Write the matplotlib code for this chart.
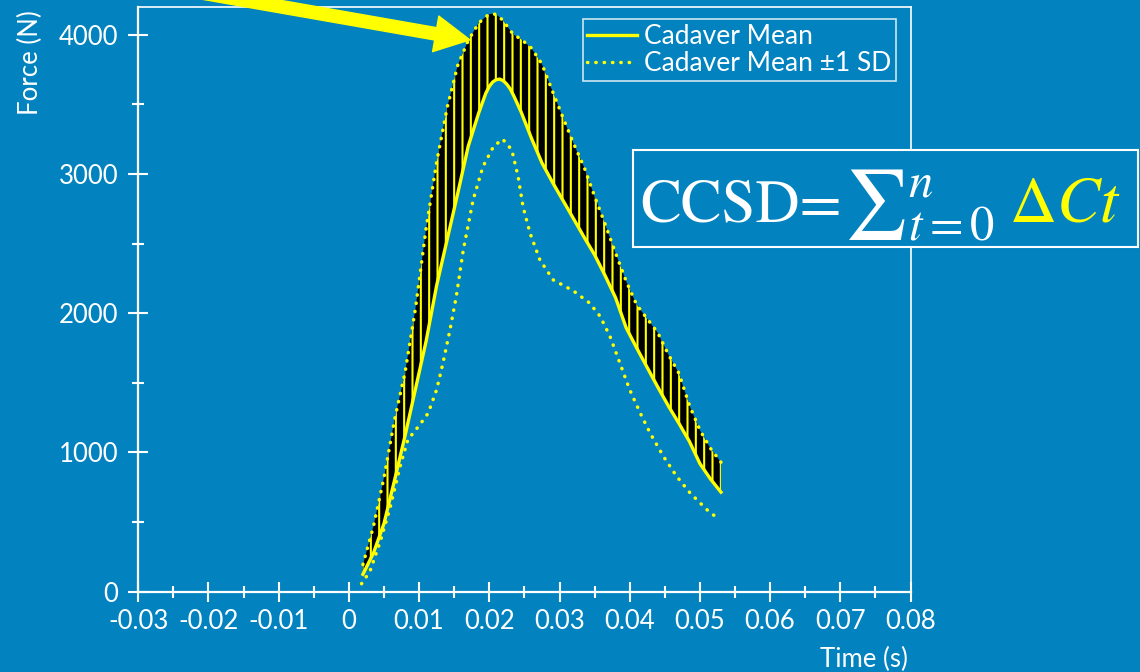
import numpy as np
import matplotlib.pyplot as plt
from matplotlib.patches import Rectangle
from matplotlib.ticker import MultipleLocator, FuncFormatter

BG = '#0283C0'
YEL = '#FFFF00'

# shared time grid for the mean and the +1 SD curve (s)
time = [0.002, 0.0035, 0.005, 0.0065, 0.008, 0.0095, 0.011, 0.0125, 0.014,
        0.0155, 0.017, 0.0185, 0.0195, 0.020, 0.0205, 0.021, 0.0215, 0.022,
        0.0225, 0.023, 0.0235, 0.024, 0.0245, 0.026, 0.0275,
        0.029, 0.0305, 0.032, 0.0335, 0.035, 0.0365, 0.038, 0.0395, 0.041,
        0.0425, 0.044, 0.0455, 0.047, 0.0485, 0.050, 0.0515, 0.053]
mean_force = [125, 278, 490, 800, 1120, 1460, 1800, 2200, 2530,
              2860, 3200, 3440, 3580, 3630, 3662, 3678, 3682, 3670,
              3645, 3610, 3560, 3505, 3450, 3258, 3080,
              2941, 2810, 2679, 2547, 2420, 2270, 2110, 1895, 1750,
              1610, 1470, 1335, 1210, 1080, 920, 810, 715]
upper_force = [195, 470, 820, 1235, 1575, 2040, 2610, 3086, 3478,
               3780, 3960, 4085, 4130, 4148, 4152, 4145, 4125, 4100,
               4065, 4030, 4000, 3985, 3970, 3905, 3790,
               3595, 3405, 3220, 3050, 2840, 2640, 2430, 2230, 2060,
               1960, 1860, 1705, 1570, 1340, 1160, 1030, 930]

# -1 SD curve, read separately
lower_time = [0.0018, 0.0030, 0.0044, 0.0058, 0.0073, 0.0084, 0.0101, 0.0113,
              0.0125, 0.0134, 0.0144, 0.0153, 0.0163, 0.0177, 0.0191, 0.0206,
              0.0219, 0.0232, 0.0241, 0.0248, 0.0258, 0.0272, 0.0291, 0.0320,
              0.0343, 0.0358, 0.0372, 0.0386, 0.0400, 0.0415, 0.0429, 0.0448,
              0.0467, 0.0486, 0.0510, 0.0526]
lower_force = [57, 146, 350, 589, 900, 1092, 1199, 1283,
               1451, 1642, 1881, 2121, 2456, 2815, 3054, 3198,
               3251, 3174, 2983, 2767, 2576, 2384, 2240, 2160,
               2073, 1977, 1833, 1642, 1451, 1283, 1140, 972,
               828, 709, 589, 524]

plt.rcParams['font.family'] = ['Lato', 'DejaVu Sans']
plt.rcParams['hatch.color'] = YEL
plt.rcParams['hatch.linewidth'] = 1.5

FS = 18.5

fig = plt.figure(figsize=(11.4, 6.72), dpi=100, facecolor=BG)
ax = fig.add_axes([0.1213, 0.1195, 0.6774, 0.8701], facecolor=BG)

ax.fill_between(time, mean_force, upper_force, facecolor='black',
                edgecolor=YEL, hatch='||', linewidth=0, zorder=1)
dots = (0, (0.1, 2.3))
ax.plot(lower_time, lower_force, color=YEL, lw=2.5, linestyle=dots,
        dash_capstyle='round', zorder=2)
ax.plot(time, upper_force, color=YEL, lw=2.5, linestyle=dots,
        dash_capstyle='round', zorder=2, label='Cadaver Mean \u00b11 SD')
ax.plot(time, mean_force, color=YEL, lw=2.4, zorder=3, label='Cadaver Mean')

ax.set_xlim(-0.03, 0.08)
ax.set_ylim(0, 4200)
ax.xaxis.set_major_locator(MultipleLocator(0.01))
ax.xaxis.set_minor_locator(MultipleLocator(0.005))
ax.yaxis.set_major_locator(MultipleLocator(1000))
ax.yaxis.set_minor_locator(MultipleLocator(500))
ax.xaxis.set_major_formatter(FuncFormatter(lambda v, p: '%g' % round(v, 3)))
ax.yaxis.set_major_formatter(FuncFormatter(lambda v, p: '%d' % v))

ax.tick_params(which='major', direction='inout', length=14.4, width=1.5,
               colors='white', labelsize=FS)
ax.tick_params(which='minor', direction='inout', length=8, width=1.5,
               colors='white')
ax.tick_params(axis='y', pad=7)
ax.tick_params(axis='x', pad=5)
for side in ['left', 'bottom']:
    ax.spines[side].set_color('white')
    ax.spines[side].set_linewidth(1.6)
for side in ['top', 'right']:
    ax.spines[side].set_color('white')
    ax.spines[side].set_linewidth(1.2)

handles, labels = ax.get_legend_handles_labels()
leg = ax.legend(handles[::-1], labels[::-1], loc='upper right',
                bbox_to_anchor=(896 / 1140, 1 - 19 / 672),
                bbox_transform=fig.transFigure, borderaxespad=0,
                fancybox=False, edgecolor='white', facecolor='none',
                fontsize=19, labelcolor='white',
                handlelength=1.9, handletextpad=0.25, borderpad=0.18,
                labelspacing=0.08)
leg.get_frame().set_linewidth(1.2)

fig.text(30 / 1140, 1 - 10 / 672, 'Force (N)', rotation=90, color='white',
         fontsize=FS, ha='center', va='top')
fig.text(908 / 1140, 1 - 659 / 672, 'Time (s)', color='white',
         fontsize=FS, ha='right', va='center')

# arrow pointing at the peak
ax.annotate('', xy=(0.01724, 3964), xytext=(100 / 1140, 1 + 25 / 672),
            textcoords='figure fraction', annotation_clip=False,
            arrowprops=dict(arrowstyle='simple,head_length=2.5,head_width=2.6,tail_width=0.9',
                            color=YEL, shrinkA=0, shrinkB=0, mutation_scale=10),
            zorder=5)

# formula box
box = Rectangle((633 / 1140, 1 - 247 / 672), (1138 - 633) / 1140,
                (247 - 150) / 672, transform=fig.transFigure,
                facecolor=BG, edgecolor='white', lw=1.5, zorder=5)
fig.add_artist(box)
base_y = 1 - 222 / 672
t1 = fig.text(640 / 1140, base_y, 'CCSD=', family='STIXGeneral',
              color='white', fontsize=44, ha='left', va='baseline', zorder=6)
fig.canvas.draw()
bb = t1.get_window_extent()
t2 = fig.text((bb.x1 + 3) / 1140, base_y, r'${\sum}_{t=0}^{n}$',
              color='white', fontsize=50, math_fontfamily='stix',
              ha='left', va='baseline', zorder=6)
fig.canvas.draw()
bb = t2.get_window_extent()
t3 = fig.text((bb.x1 + 14) / 1140, base_y, r'$\Delta Ct$',
              color=YEL, fontsize=47, math_fontfamily='stix',
              ha='left', va='baseline', zorder=6)

fig.savefig('out.png', dpi=100, facecolor=BG)
